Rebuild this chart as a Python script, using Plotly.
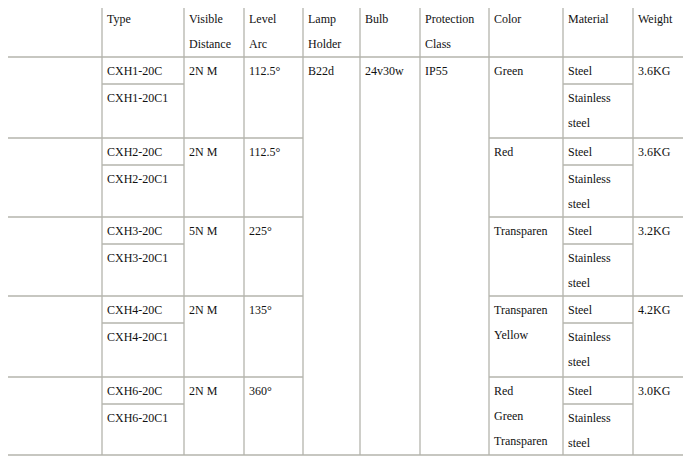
import plotly.graph_objects as go

headers = [["Name"], ["Type"], ["Visible", "Distance"], ["Level", "Arc"], ["Lamp", "Holder"],
           ["Bulb"], ["Protection", "Class"], ["Color"], ["Material"], ["Weight"]]
names = [["Double-deck", "Starboard Light"], ["Double-deck", "Port light"], ["Double-deck", "Masthead light"],
         ["Double-deck", "stern light"], ["Double-deck", "All-round light"]]
types = [["CXH1-20C", "CXH1-20C1"], ["CXH2-20C", "CXH2-20C1"], ["CXH3-20C", "CXH3-20C1"],
         ["CXH4-20C", "CXH4-20C1"], ["CXH6-20C", "CXH6-20C1"]]
distances = ["2N M", "2N M", "5N M", "2N M", "2N M"]
arcs = ["112.5°", "112.5°", "225°", "135°", "360°"]
lamp_holder = "B22d"
bulb = "24v30w"
protection = "IP55"
colors = [["Green"], ["Red"], ["Transparen"], ["Transparen", "Yellow"], ["Red", "Green", "Transparen"]]
materials = [["Steel", "Stainless steel"]] * 5
weights = ["3.6KG", "3.6KG", "3.2KG", "4.2KG", "3.0KG"]

# layout geometry (page pixels)
cols = [4, 102, 184, 244, 303, 360, 420, 489, 563, 633, 686]
rows = [5, 57, 138, 217, 296, 377, 455]
SUB = 27
LH = 25
LC = "#b4b4ac"
OFF = 8  # page body margin

fig = go.Figure()
shapes = []
def line(x0, y0, x1, y1):
    shapes.append(dict(type="line", x0=x0, y0=y0, x1=x1, y1=y1, xref="x", yref="y",
                       line=dict(color=LC, width=1.3)))

line(cols[0], rows[0], cols[-1], rows[0])
line(cols[0], rows[-1], cols[-1], rows[-1])
line(cols[0], rows[1], cols[-1], rows[1])
for c in cols:
    line(c, rows[0], c, rows[-1])
for r in rows[2:-1]:
    line(cols[0], r, cols[4], r)
    line(cols[7], r, cols[-1], r)
for r in rows[1:-1]:
    line(cols[1], r + SUB, cols[2], r + SUB)
    line(cols[8], r + SUB, cols[9], r + SUB)

anns = []
def text(x, y, s):
    anns.append(dict(x=x + 3, y=y, text=s, showarrow=False, xanchor="left", yanchor="middle",
                     xref="x", yref="y", font=dict(family="Liberation Serif", size=12, color="#111")))

def lines(x, top, arr):
    for i, s in enumerate(arr):
        text(x, top + 14 + i * LH, s)

for j, h in enumerate(headers):
    lines(cols[j], rows[0], h)

for i in range(5):
    top = rows[i + 1]
    lines(cols[0], top, names[i])
    text(cols[1], top + 14, types[i][0])
    text(cols[1], top + SUB + 14, types[i][1])
    lines(cols[2], top, [distances[i]])
    lines(cols[3], top, [arcs[i]])
    lines(cols[7], top, colors[i])
    text(cols[8], top + 14, materials[i][0])
    lines(cols[8], top + SUB, materials[i][1].split(" "))
    lines(cols[9], top, [weights[i]])

lines(cols[4], rows[1], [lamp_holder])
lines(cols[5], rows[1], [bulb])
lines(cols[6], rows[1], [protection])

fig.update_layout(width=691 - OFF, height=461 - OFF, margin=dict(l=0, r=0, t=0, b=0),
                  paper_bgcolor="white", plot_bgcolor="white",
                  shapes=shapes, annotations=anns, showlegend=False,
                  xaxis=dict(range=[OFF, 691], visible=False, fixedrange=True),
                  yaxis=dict(range=[461, OFF], visible=False, fixedrange=True))
fig.write_html("out.html")
